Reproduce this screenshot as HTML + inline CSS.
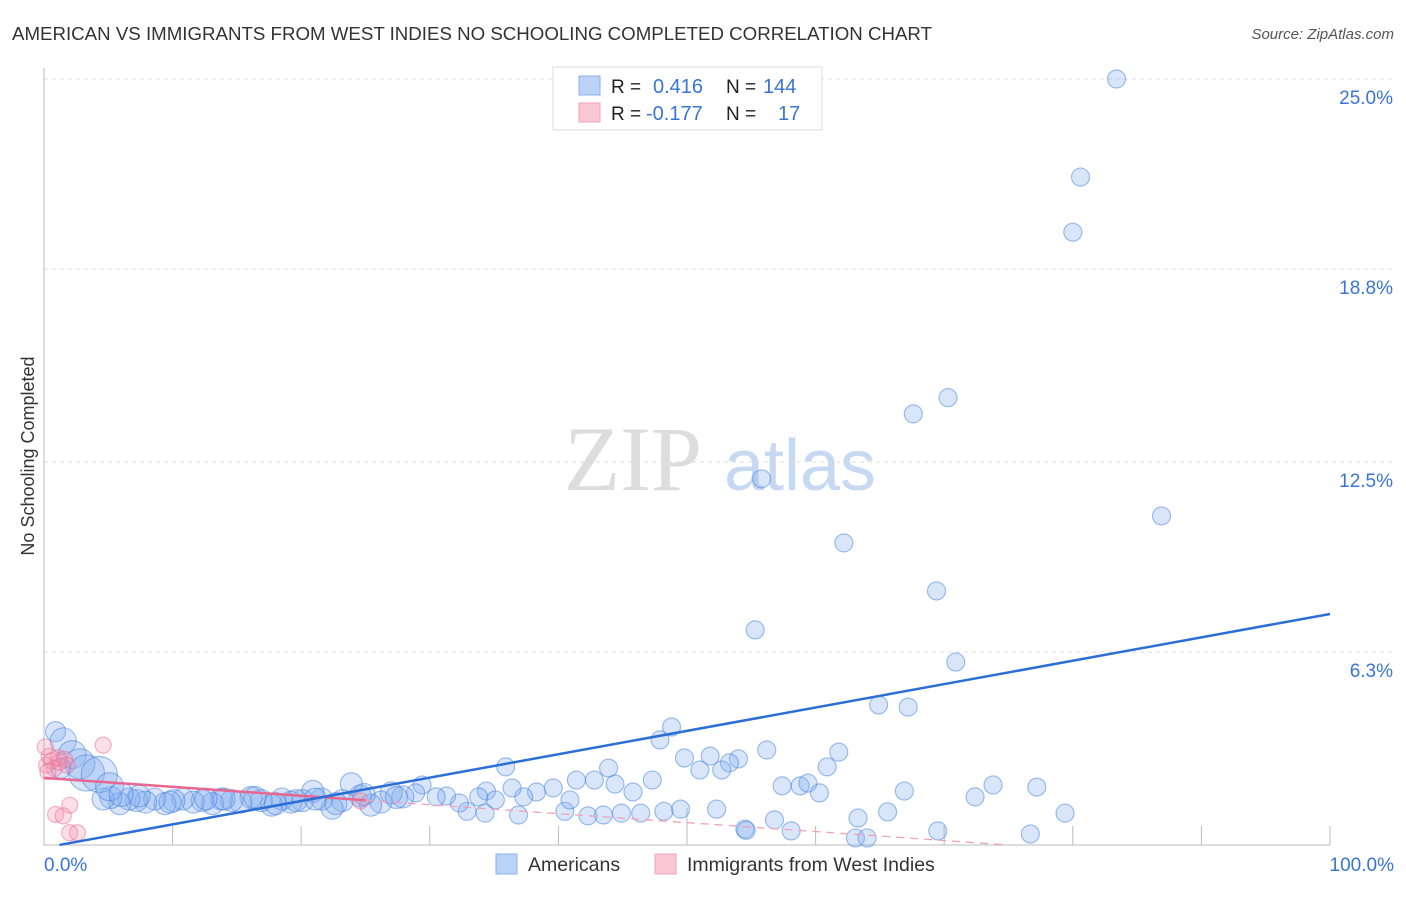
<!DOCTYPE html>
<html><head><meta charset="utf-8"><style>
body{margin:0;background:#fff;width:1406px;height:892px;overflow:hidden;font-family:"Liberation Sans",sans-serif}
</style></head><body>
<svg id="chart" width="1406" height="892" xmlns="http://www.w3.org/2000/svg">
<text x="12" y="40" font-size="18" fill="#333" textLength="920" lengthAdjust="spacingAndGlyphs" font-family="Liberation Sans, sans-serif">AMERICAN VS IMMIGRANTS FROM WEST INDIES NO SCHOOLING COMPLETED CORRELATION CHART</text>
<text x="1394" y="39" font-size="15" fill="#555" font-style="italic" text-anchor="end">Source: ZipAtlas.com</text>
<text transform="translate(34,456) rotate(-90)" font-size="18" fill="#333" text-anchor="middle">No Schooling Completed</text>
<g>
<text x="633" y="490" font-size="92" font-family="Liberation Serif, serif" fill="#ddd" text-anchor="middle">ZIP</text>
<text x="800" y="490" font-size="72" fill="#c7d9f2" text-anchor="middle">atlas</text>
</g>
<g id="grid"></g><g id="axes"></g><g id="pts"></g><g id="lines"></g>
<g>
<rect x="553" y="67" width="269" height="63" fill="#fff" stroke="#ddd"/>
<rect x="579" y="76" width="21" height="19" fill="#b9d2f5" stroke="#8ab1ea"/>
<rect x="579" y="103" width="21" height="19" fill="#fbc7d6" stroke="#f2a3ba"/>
<text x="611" y="93" font-size="19" fill="#222">R =</text><text x="653" y="93" font-size="20" fill="#3a74d4">0.416</text>
<text x="726" y="93" font-size="19" fill="#222">N =</text><text x="763" y="93" font-size="20" fill="#3a74d4">144</text>
<text x="611" y="120" font-size="19" fill="#222">R =</text><text x="646" y="120" font-size="20" fill="#3a74d4">-0.177</text>
<text x="726" y="120" font-size="19" fill="#222">N =</text><text x="778" y="120" font-size="20" fill="#3a74d4">17</text>
</g>
<g>
<rect x="496" y="854" width="21" height="20" fill="#b9d2f5" stroke="#8ab1ea"/>
<text x="528" y="871" font-size="19.5" fill="#333">Americans</text>
<rect x="655" y="854" width="21" height="20" fill="#fbc7d6" stroke="#f2a3ba"/>
<text x="687" y="871" font-size="19.5" fill="#333">Immigrants from West Indies</text>
</g>
</svg>
<script>
const yTicks=[6.3,12.5,18.8,25.0];
const yTickLabels=["6.3%","12.5%","18.8%","25.0%"];
const xTickLabels=["0.0%","100.0%"];
const blueX=[83.4,80.6,80.0,67.6,70.3,55.8,86.9,62.2,69.4,55.3,70.9,64.9,67.2,48.8,47.9,56.2,61.8,51.8,49.8,54.0,53.3,60.9,51.0,52.7,35.9,43.9,73.8,77.2,57.4,58.8,59.4,72.4,66.9,60.3,79.4,65.6,63.3,69.5,76.7,58.1,54.5,54.6,56.8,63.1,64.0,52.3,49.5,48.2,46.4,44.9,42.3,43.5,40.5,36.9,34.3,32.9,47.3,45.8,44.4,42.8,41.4,39.6,40.9,38.3,37.3,36.4,34.4,35.1,33.8,32.3,31.3,30.5,29.4,28.9,58.0,
27.9,27.0,26.2,25.4,24.6,23.9,23.2,22.4,21.6,20.9,20.1,19.2,18.5,17.7,16.9,16.1,15.3,14.6,13.8,13.1,12.3,11.6,10.8,10.1,9.4,8.6,7.9,7.2,6.6,5.9,5.2,4.6,27.4,24.9,22.7,21.1,19.6,18.0,16.4,14.0,12.6,9.8,7.4,
0.9,1.5,2.2,2.8,3.3,4.3,5.1,6.0,1.3];
const blueY=[25.0,21.8,20.0,14.07,14.6,11.95,10.74,9.86,8.29,7.02,5.97,4.57,4.5,3.85,3.43,3.1,3.03,2.9,2.84,2.81,2.68,2.55,2.45,2.45,2.55,2.51,1.96,1.89,1.93,1.93,2.02,1.57,1.76,1.7,1.04,1.08,0.88,0.46,0.36,0.46,0.52,0.48,0.82,0.23,0.23,1.17,1.17,1.1,1.04,1.04,0.95,0.98,1.1,0.98,1.04,1.1,2.12,1.73,1.99,2.12,2.12,1.86,1.47,1.73,1.57,1.86,1.76,1.47,1.57,1.37,1.6,1.57,1.96,1.7,23.76,
1.57,1.7,1.4,1.3,1.6,2.0,1.45,1.2,1.5,1.75,1.45,1.4,1.5,1.3,1.45,1.55,1.4,1.45,1.5,1.35,1.45,1.4,1.5,1.45,1.35,1.5,1.4,1.45,1.5,1.35,1.55,1.5,1.55,1.65,1.35,1.5,1.45,1.35,1.55,1.5,1.5,1.4,1.6,
3.7,3.4,2.95,2.65,2.35,2.3,1.9,1.65,2.5];
const blueR=[];for(let i=0;i<blueX.length;i++)blueR.push(i>=blueX.length-9?[10,13,14,15,18,18,14,12,10][i-(blueX.length-9)]:(i>=75?11:9));
const pinkX=[4.6,0.6,1.2,1.6,0.2,0.4,2.0,0.9,1.5,2.0,2.6,24.6,0.1,0.8,1.8,0.3,1.1];
const pinkY=[3.26,2.75,2.7,2.8,2.6,2.9,1.3,1.0,0.95,0.4,0.4,1.44,3.2,2.5,2.6,2.4,2.85];
const blueTrend=[-0.09,7.54];
const pinkTrend=[2.19,-0.73];
const NS="http://www.w3.org/2000/svg";
const X=v=>44+v*12.86, Y=v=>845-v*30.64;
function mk(p,t,a){const e=document.createElementNS(NS,t);for(const k in a)e.setAttribute(k,a[k]);document.getElementById(p).appendChild(e);return e;}
yTicks.forEach((t,i)=>{
 const g=mk('grid','line',{x1:44,x2:1394,y1:Y(t),y2:Y(t),stroke:'#ddd','stroke-dasharray':'4,4'});
 
 
 const l=mk('axes','text',{x:1393,y:Y(t)+25,'font-size':19,fill:'#3a74d4','text-anchor':'end'});l.textContent=yTickLabels[i];
 
 
});
const ax=mk('axes','line',{x1:44,x2:1330,y1:845,y2:845,stroke:'#bbb'});


const ay=mk('axes','line',{x1:44,x2:44,y1:68,y2:845,stroke:'#bbb'});


for(let i=1;i<=10;i++){const t=mk('axes','line',{x1:X(i*10),x2:X(i*10),y1:i==5?808:826,y2:845,stroke:'#bbb'});
 
 }
[[0,'start',44],[1,'end',1394]].forEach(([i,a,x])=>{const l=mk('axes','text',{x:x,y:871,'font-size':19,fill:'#3a74d4','text-anchor':a});l.textContent=xTickLabels[i];
 
 });
blueX.forEach((v,i)=>{const c=mk('pts','circle',{cx:X(v),cy:Y(blueY[i]),r:blueR[i],fill:'rgba(130,172,238,0.3)',stroke:'rgba(70,130,220,0.5)','stroke-width':1.2});
 
 });
pinkX.forEach((v,i)=>{const c=mk('pts','circle',{cx:X(v),cy:Y(pinkY[i]),r:8,fill:'rgba(245,140,170,0.28)',stroke:'rgba(235,110,150,0.5)','stroke-width':1.2});
 
 });
const py=x=>pinkTrend[0]+(pinkTrend[1]-pinkTrend[0])*x/100;
const by=x=>blueTrend[0]+(blueTrend[1]-blueTrend[0])*x/100;
const pEnd=Math.min(100,-pinkTrend[0]/((pinkTrend[1]-pinkTrend[0])/100));
const p1=mk('lines','line',{x1:X(0),y1:Y(py(0)),x2:X(25),y2:Y(py(25)),stroke:'#e8668f','stroke-width':2.5});


const p2=mk('lines','line',{x1:X(25),y1:Y(py(25)),x2:X(pEnd),y2:Y(py(pEnd)),stroke:'#f0a0b8','stroke-width':1.3,'stroke-dasharray':'8,6'});


const b=mk('lines','line',{x1:X(1.2),y1:Y(by(1.2)),x2:X(100),y2:Y(by(100)),stroke:'#2b6fd6','stroke-width':2.5});


</script>
</body></html>
